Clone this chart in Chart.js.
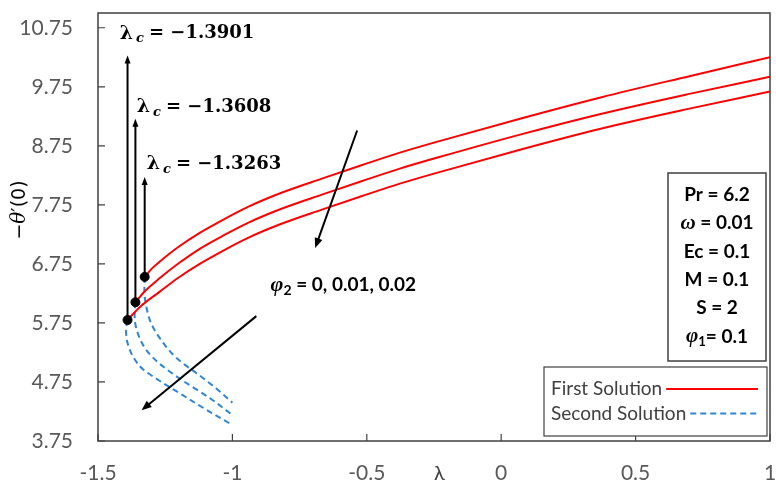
<!DOCTYPE html>
<html>
<head>
<meta charset="utf-8">
<script src="https://cdn.jsdelivr.net/npm/chart.js@4.4.1/dist/chart.umd.min.js"></script>
<style>
  html, body { margin: 0; padding: 0; background: #ffffff; }
  #wrap { width: 776px; height: 484px; }
</style>
</head>
<body>
<div id="wrap"><canvas id="c" width="776" height="484"></canvas></div>
<script>
// Axis ticks
const xTicks = [-1.5, -1, -0.5, 0, 0.5, 1];
const yTicks = [3.75, 4.75, 5.75, 6.75, 7.75, 8.75, 9.75, 10.75];

// Critical points (turning points) for φ2 = 0, 0.01, 0.02
const lambdaC = [-1.3263, -1.3608, -1.3901];
const thetaC = [6.53, 6.10, 5.80];
const lambdaCText = ['−1.3263', '−1.3608', '−1.3901'];

// First solution branch: λ and −θ′(0)
const first0Lam = [-1.3263, -1.30, -1.27, -1.2, -1.12, -1.03, -0.94, -0.82, -0.67, -0.52, -0.38, -0.23, 0.07, 0.37, 0.7, 1.0];
const first0Val = [6.53, 6.67, 6.79, 7.04, 7.28, 7.51, 7.72, 7.95, 8.19, 8.42, 8.63, 8.83, 9.21, 9.57, 9.93, 10.25];
const first1Lam = [-1.3608, -1.325, -1.27, -1.2, -1.12, -1.03, -0.94, -0.82, -0.67, -0.52, -0.38, -0.23, 0.07, 0.37, 0.7, 1.0];
const first1Val = [6.10, 6.29, 6.51, 6.76, 7.01, 7.24, 7.45, 7.68, 7.92, 8.15, 8.36, 8.56, 8.94, 9.29, 9.63, 9.92];
const first2Lam = [-1.3901, -1.344, -1.27, -1.2, -1.12, -1.03, -0.94, -0.82, -0.67, -0.52, -0.38, -0.23, 0.07, 0.37, 0.7, 1.0];
const first2Val = [5.80, 6.02, 6.28, 6.52, 6.755, 6.985, 7.195, 7.425, 7.665, 7.895, 8.105, 8.305, 8.685, 9.04, 9.38, 9.67];

// Second solution branch: λ and −θ′(0)
const second0Lam = [-1.3263, -1.3275, -1.320, -1.302, -1.265, -1.209, -1.122, -1.06, -1.0];
const second0Val = [6.53, 6.30, 6.02, 5.74, 5.46, 5.16, 4.86, 4.64, 4.40];
const second1Lam = [-1.3608, -1.3637, -1.3515, -1.320, -1.271, -1.184, -1.085, -1.0];
const second1Val = [6.10, 5.85, 5.57, 5.29, 5.06, 4.77, 4.48, 4.19];
const second2Lam = [-1.3901, -1.3956, -1.39, -1.371, -1.334, -1.271, -1.186, -1.097, -1.0];
const second2Val = [5.80, 5.63, 5.41, 5.19, 4.97, 4.77, 4.53, 4.28, 4.02];

// Parameter box lines
const paramLines = [
  ['', 'Pr = 6.2'],
  ['ω', ' = 0.01'],
  ['', 'Ec = 0.1'],
  ['', 'M = 0.1'],
  ['', 'S = 2'],
  ['φ1', '= 0.1']
];

const RED = '#FF0000';
const BLUE = '#2E86D6';
const INK = '#404040';
const TICK = '#595959';

function pts(lam, val) { return lam.map((x, i) => ({ x: x, y: val[i] })); }

function firstSet(lam, val) {
  return { label: 'First Solution', data: pts(lam, val), showLine: true, borderColor: RED,
    borderWidth: 2, pointRadius: 0, cubicInterpolationMode: 'monotone', fill: false };
}
// the lower branch is single-valued in −θ′(0), so it is interpolated along y
function secondSet(lam, val) {
  return { label: 'Second Solution', data: pts(lam, val), showLine: true, borderColor: BLUE,
    borderWidth: 2, borderDash: [6, 4], pointRadius: 0, indexAxis: 'y',
    cubicInterpolationMode: 'monotone', fill: false };
}

function arrow(ctx, x1, y1, x2, y2, len, half, width) {
  const a = Math.atan2(y2 - y1, x2 - x1);
  ctx.save();
  ctx.strokeStyle = '#000';
  ctx.fillStyle = '#000';
  ctx.lineWidth = width;
  ctx.beginPath();
  ctx.moveTo(x1, y1);
  ctx.lineTo(x2 - Math.cos(a) * len * 0.8, y2 - Math.sin(a) * len * 0.8);
  ctx.stroke();
  ctx.beginPath();
  ctx.moveTo(x2, y2);
  ctx.lineTo(x2 - Math.cos(a) * len - Math.sin(a) * half, y2 - Math.sin(a) * len + Math.cos(a) * half);
  ctx.lineTo(x2 - Math.cos(a) * len + Math.sin(a) * half, y2 - Math.sin(a) * len - Math.cos(a) * half);
  ctx.closePath();
  ctx.fill();
  ctx.restore();
}

// Vertical arrow tips and label anchors, in data units
const vArrowTop = [8.22, 9.21, 10.28];
const lcLabelAt = [[-1.319, 8.44], [-1.356, 9.40], [-1.419, 10.65]];
const firstArrow = [[-0.536, 9.01], [-0.692, 7.02]];
const secondArrow = [[-0.911, 5.865], [-1.338, 4.27]];
const phiLabelAt = [-0.858, 6.39];

function noPad(s) { s.paddingTop = 0; s.paddingBottom = 0; s.paddingLeft = 0; s.paddingRight = 0; }

// width and drawing of a run of [text, font, dy] pieces
function runWidth(ctx, parts) {
  let w = 0;
  parts.forEach(p => { ctx.font = p[1]; w += ctx.measureText(p[0]).width; });
  return w;
}
function drawRun(ctx, parts, x, y) {
  parts.forEach(p => { ctx.font = p[1]; ctx.fillText(p[0], x, y + (p[2] || 0)); x += ctx.measureText(p[0]).width; });
}

const decor = {
  id: 'decor',
  beforeDatasetsDraw(chart) {
    const ctx = chart.ctx, xs = chart.scales.x, ys = chart.scales.y;
    lambdaC.forEach((l, i) => {
      const px = xs.getPixelForValue(l);
      arrow(ctx, px, ys.getPixelForValue(thetaC[i]), px, ys.getPixelForValue(vArrowTop[i]), 8, 3, 2);
    });
  },
  afterDatasetsDraw(chart) {
    const ctx = chart.ctx, xs = chart.scales.x, ys = chart.scales.y, ca = chart.chartArea;
    ctx.save();
    // frame
    ctx.strokeStyle = INK;
    ctx.lineWidth = 1.5;
    ctx.strokeRect(ca.left, ca.top, ca.right - ca.left, ca.bottom - ca.top);
    // inside tick marks
    ctx.lineWidth = 1.2;
    ctx.beginPath();
    xTicks.forEach(v => { const p = xs.getPixelForValue(v); ctx.moveTo(p, ca.bottom); ctx.lineTo(p, ca.bottom - 7); });
    yTicks.forEach(v => { const p = ys.getPixelForValue(v); ctx.moveTo(ca.left, p); ctx.lineTo(ca.left + 7, p); });
    ctx.stroke();

    // diagonal arrows
    arrow(ctx, xs.getPixelForValue(firstArrow[0][0]), ys.getPixelForValue(firstArrow[0][1]),
      xs.getPixelForValue(firstArrow[1][0]), ys.getPixelForValue(firstArrow[1][1]), 10, 4, 2);
    arrow(ctx, xs.getPixelForValue(secondArrow[0][0]), ys.getPixelForValue(secondArrow[0][1]),
      xs.getPixelForValue(secondArrow[1][0]), ys.getPixelForValue(secondArrow[1][1]), 10, 4, 2);

    // λc labels
    ctx.fillStyle = '#000';
    ctx.textBaseline = 'middle';
    ctx.textAlign = 'left';
    lcLabelAt.forEach((p, i) => {
      let x = xs.getPixelForValue(p[0]);
      const y = ys.getPixelForValue(p[1]);
      ctx.font = 'bold 19px "DejaVu Serif"';
      ctx.fillText('λ', x, y);
      x += ctx.measureText('λ').width + 3;
      ctx.font = 'bold italic 13px "DejaVu Serif"';
      ctx.fillText('c', x, y + 5);
      x += ctx.measureText('c').width + 5;
      ctx.font = 'bold 18px "DejaVu Serif"';
      ctx.fillText('= ' + lambdaCText[i], x, y);
    });

    // φ2 label
    drawRun(ctx, [
      ['φ', 'bold italic 22px "Liberation Serif"', 0],
      ['2', 'bold 14px Lato', 5],
      [' = 0, 0.01, 0.02', 'bold 19px Lato', 0]
    ], xs.getPixelForValue(phiLabelAt[0]), ys.getPixelForValue(phiLabelAt[1]));

    // parameter box
    {
      const bx = ca.right - 102, by = 173, bw = 98, bh = 188;
      ctx.fillStyle = '#fff';
      ctx.fillRect(bx, by, bw, bh);
      ctx.strokeStyle = INK;
      ctx.lineWidth = 1.5;
      ctx.strokeRect(bx, by, bw, bh);
      ctx.fillStyle = '#000';
      const cx = bx + bw / 2;
      paramLines.forEach((ln, i) => {
        const y = by + 22 + i * 28.3;
        const sym = ln[0];
        const parts = [];
        if (sym) parts.push([sym[0], 'bold italic 21px "Liberation Serif"', 0]);
        if (sym.length > 1) parts.push([sym.slice(1), 'bold 13px Lato', 5]);
        parts.push([ln[1], 'bold 19px Lato', 0]);
        drawRun(ctx, parts, cx - runWidth(ctx, parts) / 2, y);
      });
    }

    // legend box
    {
      const lx = ca.right - 226, ly = ca.bottom - 74, lw = 223, lh = 69;
      ctx.fillStyle = '#fff';
      ctx.fillRect(lx, ly, lw, lh);
      ctx.strokeStyle = INK;
      ctx.lineWidth = 1.2;
      ctx.strokeRect(lx, ly, lw, lh);
      const sets = chart.data.datasets;
      const entries = [sets[1], sets[4]];
      entries.forEach((ds, i) => {
        const y = ly + 22 + i * 24.5;
        ctx.fillStyle = INK;
        ctx.font = '19px Lato';
        ctx.fillText(ds.label, lx + 7, y);
        const tw = ctx.measureText(ds.label).width;
        ctx.save();
        ctx.strokeStyle = ds.borderColor;
        ctx.lineWidth = 2;
        if (ds.borderDash) ctx.setLineDash(ds.borderDash);
        ctx.beginPath();
        ctx.moveTo(lx + 7 + tw + 4, y);
        ctx.lineTo(lx + lw - 9, y);
        ctx.stroke();
        ctx.restore();
      });
    }

    // axis titles
    ctx.fillStyle = INK;
    ctx.textAlign = 'center';
    ctx.font = '20px Lato, "DejaVu Sans"';
    ctx.fillText('λ', xs.getPixelForValue(-0.23), ca.bottom + 33);
    ctx.save();
    ctx.translate(20, 210);
    ctx.rotate(-Math.PI / 2);
    ctx.fillStyle = '#000';
    ctx.textAlign = 'left';
    const yTitle = [
      ['−', '19px "DejaVu Sans"', 0],
      ['θ', 'italic 20px "DejaVu Serif"', 0],
      ['′(0)', '19px "DejaVu Sans"', 0]
    ];
    drawRun(ctx, yTitle, -runWidth(ctx, yTitle) / 2, 0);
    ctx.restore();
    ctx.restore();
  }
};

const chart = new Chart(document.getElementById('c'), {
  type: 'scatter',
  data: {
    datasets: [
      { label: 'λc', data: pts(lambdaC, thetaC), showLine: false, pointRadius: 4.5,
        pointBackgroundColor: '#000', pointBorderColor: '#000', order: -1 },
      firstSet(first0Lam, first0Val),
      firstSet(first1Lam, first1Val),
      firstSet(first2Lam, first2Val),
      secondSet(second0Lam, second0Val),
      secondSet(second1Lam, second1Val),
      secondSet(second2Lam, second2Val)
    ]
  },
  options: {
    responsive: false,
    animation: false,
    devicePixelRatio: 1,
    layout: { padding: { top: 13, right: 6, left: 0, bottom: 0 } },
    plugins: { legend: { display: false }, tooltip: { enabled: false } },
    scales: {
      x: {
        type: 'linear', min: -1.5, max: 1,
        afterBuildTicks: s => { s.ticks = xTicks.map(v => ({ value: v })); },
        afterFit: s => { s.height = 43; noPad(s); },
        grid: { display: false, drawTicks: false },
        border: { display: false },
        ticks: { padding: 20, color: TICK, font: { family: 'Lato', size: 21 },
          callback: v => String(v) }
      },
      y: {
        type: 'linear', min: 3.75, max: 11,
        afterBuildTicks: s => { s.ticks = yTicks.map(v => ({ value: v })); },
        afterFit: s => { s.width = 98; noPad(s); },
        grid: { display: false, drawTicks: false },
        border: { display: false },
        ticks: { padding: 25, color: TICK, font: { family: 'Lato', size: 21 },
          callback: v => v.toFixed(2) }
      }
    }
  },
  plugins: [decor]
});
</script>
</body>
</html>
